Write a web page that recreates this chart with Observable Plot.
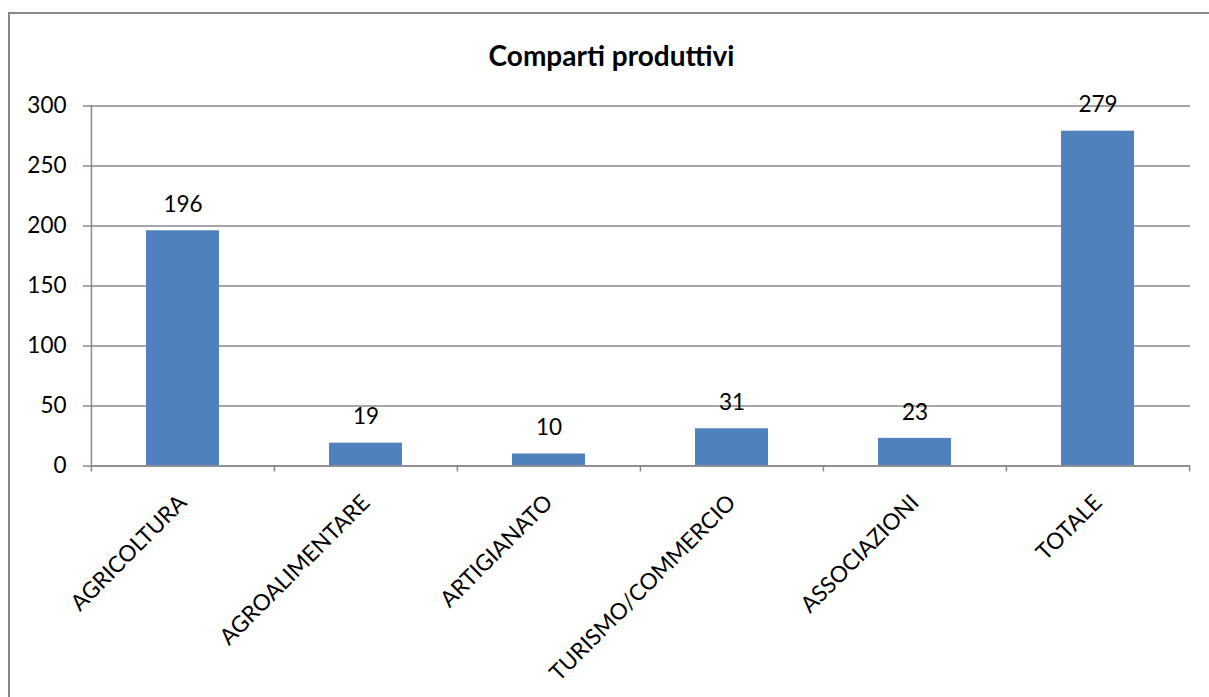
<!DOCTYPE html>
<html>
<head>
<meta charset="utf-8">
<script src="https://cdn.jsdelivr.net/npm/d3@7"></script>
<script src="https://cdn.jsdelivr.net/npm/@observablehq/plot@0.6"></script>
<style>
  html, body { margin: 0; padding: 0; background: #fff; overflow: hidden; width: 1209px; height: 697px; }
  #frame { position: absolute; left: 8px; top: 12px; width: 1230px; height: 720px; border: 2px solid #888; box-sizing: border-box; z-index: 2; pointer-events: none; }
  #title { position: absolute; left: 0; top: 38px; width: 1223px; text-align: center; font: bold 28px Lato, sans-serif; color: #000; }
  #chart { position: absolute; left: 0; top: 80px; }
</style>
</head>
<body>
<div id="frame"></div>
<div id="title">Comparti produttivi</div>
<div id="chart"></div>
<script>
// Imprese per comparto produttivo
const categories = ["AGRICOLTURA", "AGROALIMENTARE", "ARTIGIANATO", "TURISMO/COMMERCIO", "ASSOCIAZIONI", "TOTALE"];
const values = [196, 19, 10, 31, 23, 279];
const yTicks = [0, 50, 100, 150, 200, 250, 300];

const data = categories.map((c, i) => ({cat: c, val: values[i]}));

const W = 1209, H = 617;
const ml = 91, mr = 19, mt = 25.5, mb = 231.5;
const step = (W - ml - mr) / categories.length;
const axisGray = "#888";
const fs = 22.5;

const chart = Plot.plot({
  width: W,
  height: H,
  marginLeft: ml,
  marginRight: mr,
  marginTop: mt,
  marginBottom: mb,
  style: {fontFamily: "Lato, sans-serif", fontSize: fs + "px", background: "transparent", color: "#000"},
  x: {domain: categories, paddingInner: 0.6, paddingOuter: 0.3, axis: null},
  y: {domain: [0, 300], axis: null},
  marks: [
    // horizontal gridlines
    Plot.ruleY(yTicks, {stroke: axisGray, strokeWidth: 1.5}),
    // y axis ticks and labels
    Plot.axisY({ticks: yTicks, tickSize: 8, tickPadding: 17, stroke: axisGray, strokeWidth: 1.5, fill: "#000", fontSize: fs, label: null}),
    // vertical axis line
    Plot.ruleX([categories[0]], {dx: -step / 2, y1: 0, y2: 300, stroke: axisGray, strokeWidth: 1.5}),
    // category boundary ticks under the baseline
    Plot.ruleX(categories, {dx: -step / 2, y1: 0, y2: 0, insetBottom: -6, stroke: axisGray, strokeWidth: 1.5}),
    Plot.ruleX([categories[categories.length - 1]], {dx: step / 2, y1: 0, y2: 0, insetBottom: -6, stroke: axisGray, strokeWidth: 1.5}),
    Plot.barY(data, {x: "cat", y: "val", fill: "#4F81BD"}),
    Plot.ruleY([0], {stroke: axisGray, strokeWidth: 1.5}),
    // value labels
    Plot.text(data, {x: "cat", y: "val", text: d => String(d.val), dy: -26, fill: "#000", fontSize: fs}),
    // rotated category labels
    Plot.text(categories, {x: d => d, text: d => d, frameAnchor: "bottom", dy: 33, dx: 0, rotate: -45, textAnchor: "end", lineAnchor: "middle", fill: "#000", fontSize: fs})
  ]
});

document.getElementById("chart").appendChild(chart);
</script>
</body>
</html>
